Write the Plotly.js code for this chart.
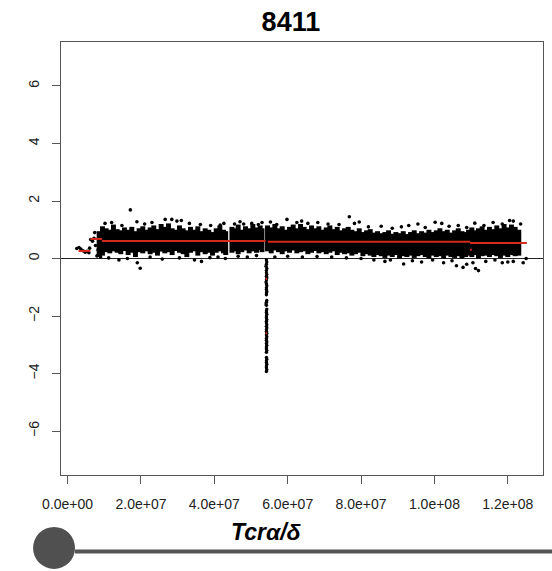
<!DOCTYPE html>
<html>
<head>
<meta charset="utf-8">
<script src="https://cdn.plot.ly/plotly-3.0.1.min.js"></script>
<style>html,body{margin:0;padding:0;background:#fff;}#chart{width:552px;height:571px;}</style>
</head>
<body>
<div id="chart"></div>
<script>
// ---- data (positions in Mb, log-ratio values) ----
var chartTitle = "8411";
var xTitle = "Tcrα/δ";
var tickValsMb = [0, 20, 40, 60, 80, 100, 120];
var tickLabels = ["0.0e+00", "2.0e+07", "4.0e+07", "6.0e+07", "8.0e+07", "1.0e+08", "1.2e+08"];
var yTickVals = [-6, -4, -2, 0, 2, 4, 6];

// dense band of probes: position, upper and lower edge
var bandX = [8.6, 9.5, 10.5, 11.5, 12.5, 13.5, 14.5, 15.5, 16.5, 17.5, 18.5, 19.5, 20.5, 21.5, 22.5, 23.5, 24.5, 25.5, 26.5, 27.5, 28.5, 29.5, 30.5, 31.5, 32.5, 33.5, 34.5, 35.5, 36.5, 37.5, 38.5, 39.5, 40.5, 41.5, 42.5, 43.1,
  44.8, 45.5, 46.5, 47.5, 48.5, 49.5, 50.5, 51.5, 52.5, 53.0,
  54.5, 55.5, 56.5, 57.5, 58.5, 59.5, 60.5, 61.5, 62.5, 63.5, 64.5, 65.5, 66.5, 67.5, 68.5, 69.5, 70.5, 71.5, 72.5, 73.5, 74.5, 75.5, 76.5, 77.5, 78.5, 79.5, 80.5, 81.5, 82.5, 83.5, 84.5, 85.5, 86.5, 87.5, 88.5, 89.5, 90.5, 91.5, 92.5, 93.5, 94.5, 95.5, 96.5, 97.5, 98.5, 99.5, 100.5, 101.5, 102.5, 103.5, 104.5, 105.5, 106.5, 107.5, 108.5, 109.3, 110.2, 111.0, 112.0, 113.0, 114.0, 115.0, 116.0, 117.0, 118.0, 119.0, 120.0, 121.0, 122.0, 123.0, 124.0, 124.9];
var bandTop = [0.95, 1.12, 1.05, 1.0, 1.18, 1.02, 0.98, 1.08, 1.0, 1.1, 0.95, 1.05, 1.12, 1.0, 1.08, 1.15, 1.02, 1.2, 1.1, 1.22, 1.05, 1.0, 1.15, 1.05, 0.98, 1.1, 1.0, 1.12, 0.95, 1.05, 1.0, 0.92, 1.05, 1.15, 1.0, 0.95,
  1.1, 1.05, 1.18, 1.0, 1.12, 1.05, 1.2, 1.08, 1.15, 1.05,
  1.15, 1.08, 1.2, 1.05, 1.12, 1.0, 1.1, 1.18, 1.05, 1.2, 1.1, 1.02, 1.15, 1.05, 1.12, 1.0, 1.08, 1.15, 1.02, 1.1, 0.98, 1.05, 1.1, 1.0, 0.95, 1.05, 0.92, 0.98, 1.02, 0.9, 0.95, 0.88, 0.92, 0.98, 0.86, 0.92, 0.88, 0.95, 0.85, 0.92, 0.98, 0.88, 0.95, 0.9, 1.0, 0.92, 0.98, 1.05, 0.95, 1.0, 0.9, 0.98, 1.05, 0.95, 0.92, 1.0, 1.08, 0.98, 1.05, 1.12, 1.0, 1.1, 1.02, 1.15, 1.05, 1.2, 1.08, 1.18, 1.1, 1.0];
var bandBot = [0.05, 0.1, 0.22, 0.18, 0.25, 0.2, 0.15, 0.26, 0.12, 0.2, 0.05, 0.22, 0.18, 0.25, 0.15, 0.2, 0.1, 0.24, 0.18, 0.22, 0.12, 0.26, 0.2, 0.15, 0.05, 0.2, 0.25, 0.1, 0.22, 0.15, 0.2, 0.1, 0.2, 0.25, 0.18, 0.12,
  0.2, 0.25, 0.15, 0.22, 0.28, 0.18, 0.25, 0.2, 0.3, 0.22,
  0.25, 0.18, 0.28, 0.22, 0.15, 0.25, 0.2, 0.28, 0.18, 0.22, 0.25, 0.15, 0.2, 0.26, 0.18, 0.22, 0.15, 0.2, 0.25, 0.12, 0.2, 0.15, 0.18, 0.1, 0.15, 0.2, 0.08, 0.15, 0.1, 0.05, 0.12, 0.08, 0.02, 0.1, 0.05, 0.12, 0.0, 0.08, 0.05, 0.1, 0.02, 0.08, 0.12, 0.05, 0.0, 0.1, 0.05, 0.08, 0.0, 0.1, 0.05, 0.02, 0.08, 0.0, 0.05, 0.1, 0.05, 0.12, 0.0, 0.08, 0.1, 0.05, 0.12, 0.08, 0.02, 0.1, 0.05, 0.12, 0.08, 0.1];

// scattered probes around the band and at the left end
var dotX = [2.5, 3.1, 3.6, 4.2, 4.8, 5.3, 5.8, 6.0, 6.3, 6.8, 7.2, 7.4, 7.6, 8.0, 8.3,
  10.2, 12.0, 14.8, 17.1, 18.9, 21.0, 23.0, 26.6, 28.4, 29.8, 31.0, 33.2, 36.2, 39.0, 41.6, 42.6, 45.5, 47.0, 48.0, 50.2, 52.0, 53.0, 55.3, 57.0, 59.8, 62.5, 63.8, 65.5, 68.2, 71.0, 74.0, 76.8, 78.2, 79.5, 82.0, 85.5, 88.5, 91.0, 93.0, 95.5, 97.5, 100.2, 102.0, 104.0, 106.5, 108.8, 111.0, 113.5, 116.0, 118.5, 120.5, 121.5, 123.5,
  9.0, 11.2, 14.0, 16.3, 19.0, 19.8, 22.5, 25.8, 30.5, 34.6, 36.5, 38.8, 41.0, 43.0, 46.5, 49.0, 51.5, 56.5, 60.0, 64.0, 68.0, 72.0, 76.0, 80.0, 83.5, 86.5, 88.0, 91.6, 94.0, 96.5, 99.5, 102.5, 104.8, 106.0, 107.8, 108.8, 110.5, 111.2, 112.0, 114.0, 116.5, 118.5, 120.0, 121.5, 124.2, 125.0];
var dotY = [0.35, 0.38, 0.33, 0.27, 0.22, 0.25, 0.2, 0.36, 0.66, 0.6, 0.7, 0.9, 0.45, 0.09, 0.3,
  1.22, 1.25, 1.15, 1.69, 1.28, 1.2, 1.25, 1.36, 1.36, 1.3, 1.32, 1.22, 1.18, 1.15, 1.16, 1.22, 1.2, 1.28, 1.2, 1.22, 1.18, 1.25, 1.27, 1.18, 1.36, 1.25, 1.3, 1.22, 1.25, 1.2, 1.18, 1.45, 1.22, 1.27, 1.1, 1.12, 1.05, 1.1, 1.15, 1.2, 1.08, 1.26, 1.22, 1.12, 1.15, 1.08, 1.23, 1.15, 1.25, 1.2, 1.32, 1.3, 1.2,
  0.05, 0.02, -0.05, 0.0, -0.15, -0.34, 0.05, -0.02, 0.02, -0.05, -0.1, 0.03, 0.05, 0.0, 0.08, 0.05, 0.1, 0.05, 0.08, 0.05, 0.07, 0.05, 0.02, 0.0, -0.05, -0.1, -0.05, -0.19, -0.08, -0.12, -0.05, -0.15, -0.08, -0.25, -0.31, -0.2, -0.15, -0.35, -0.42, -0.1, -0.05, -0.15, -0.12, -0.1, -0.15, 0.0];

// probes in the deep deletion (vertical streak)
var streakX = [54.2, 54.3, 54.2, 54.1, 54.3, 54.2, 54.2, 54.3, 54.2, 54.3, 54.2, 54.1, 54.2, 54.3, 54.2, 54.2, 54.3, 54.2, 54.2, 54.3, 54.2, 54.1, 54.2, 54.3, 54.2, 54.2, 54.3, 54.2, 54.2, 54.3, 54.2, 54.2, 54.3, 54.2, 54.3, 54.2, 54.2, 54.3, 54.2, 54.3, 54.2, 54.2, 54.3, 54.2, 54.3, 54.2, 54.2, 54.3, 54.2, 54.2, 54.3, 54.2, 54.2, 54.3, 54.2, 54.2, 54.3, 54.2];
var streakY = [-0.05, -0.12, -0.2, -0.27, -0.35, -0.42, -0.5, -0.56, -0.62, -0.68, -0.75, -0.82, -0.88, -0.95, -1.02, -1.08, -1.15, -1.2, -1.26, -1.46, -1.52, -1.58, -1.63, -1.76, -1.82, -1.88, -1.94, -2.0, -2.06, -2.12, -2.18, -2.24, -2.3, -2.36, -2.42, -2.48, -2.54, -2.6, -2.66, -2.72, -2.78, -2.84, -2.9, -2.96, -3.02, -3.08, -3.14, -3.2, -3.26, -3.44, -3.5, -3.56, -3.62, -3.68, -3.74, -3.8, -3.87, -3.93];

// segment means (red)
var segStart = [3.0, 6.2, 9.4, 54.0, 54.0, 54.6, 109.7, 109.7];
var segEnd   = [6.2, 9.4, 54.0, 54.4, 54.4, 109.7, 125.2, 110.2];
var segMean  = [0.26, 0.68, 0.61, -0.71, -2.6, 0.58, 0.54, 0.3];

// ---- build traces ----
var MB = 1e6;
var bandTrace = {
  type: 'bar',
  x: bandX.map(function (v) { return v * MB; }),
  y: bandTop.map(function (t, i) { return t - bandBot[i]; }),
  base: bandBot,
  width: 1.35 * MB,
  marker: { color: '#000', line: { width: 0 } },
  hoverinfo: 'skip'
};
var dotTrace = {
  type: 'scatter', mode: 'markers',
  x: dotX.map(function (v) { return v * MB; }),
  y: dotY,
  marker: { color: '#000', size: 3.6 },
  hoverinfo: 'skip'
};
var streakTrace = {
  type: 'scatter', mode: 'markers',
  x: streakX.map(function (v) { return v * MB; }),
  y: streakY,
  marker: { color: '#000', size: 3.4 },
  hoverinfo: 'skip'
};
var sx = [], sy = [];
for (var i = 0; i < segStart.length; i++) {
  sx.push(segStart[i] * MB, segEnd[i] * MB, null);
  sy.push(segMean[i], segMean[i], null);
}
var segTrace = {
  type: 'scatter', mode: 'lines', x: sx, y: sy,
  line: { color: '#d42a1c', width: 2 },
  hoverinfo: 'skip'
};

var layout = {
  width: 552, height: 571,
  margin: { l: 61, r: 9, t: 42, b: 96 },
  paper_bgcolor: '#fff', plot_bgcolor: '#fff',
  showlegend: false,
  barmode: 'overlay',
  font: { family: 'Liberation Sans, Arial, sans-serif', color: '#222' },
  title: {
    text: '<b>' + chartTitle + '</b>',
    font: { size: 27, color: '#000', family: 'Liberation Sans, Arial, sans-serif' },
    xref: 'paper', x: 0.477, xanchor: 'center',
    yref: 'container', y: 0.963, yanchor: 'middle'
  },
  xaxis: {
    range: [-1.8e6, 1.296e8],
    tickvals: tickValsMb.map(function (v) { return v * MB; }),
    ticktext: tickLabels,
    ticks: 'outside', ticklen: 8, tickcolor: '#555', tickwidth: 1,
    showline: true, mirror: true, linecolor: '#555', linewidth: 1,
    showgrid: false, zeroline: false,
    tickfont: { size: 14, color: '#222' },
    ticklabelstandoff: 8
  },
  yaxis: {
    range: [-7.53, 7.53],
    tickvals: yTickVals,
    ticks: 'outside', ticklen: 8, tickcolor: '#555', tickwidth: 1,
    showline: true, mirror: true, linecolor: '#555', linewidth: 1,
    showgrid: false,
    zeroline: true, zerolinecolor: '#222', zerolinewidth: 1,
    tickangle: -90,
    tickfont: { size: 14, color: '#222' },
    ticklabelstandoff: 7
  },
  annotations: [{
    text: '<b><i>' + xTitle + '</i></b>',
    xref: 'paper', yref: 'paper', x: 0.427, y: -0.132,
    xanchor: 'center', yanchor: 'middle', showarrow: false,
    font: { size: 23, color: '#000', family: 'Liberation Sans, Arial, sans-serif' }
  }],
  shapes: [
    { type: 'line', xref: 'paper', yref: 'paper', x0: 0.029, x1: 1.02, y0: -0.1767, y1: -0.1767,
      line: { color: '#555', width: 4 } },
    { type: 'circle', xref: 'paper', yref: 'paper', x0: -0.058, x1: 0.0291, y0: -0.217, y1: -0.120,
      fillcolor: '#505050', line: { color: '#505050', width: 0 } }
  ]
};

Plotly.newPlot('chart', [bandTrace, dotTrace, streakTrace, segTrace], layout, { staticPlot: true, displayModeBar: false });
</script>
</body>
</html>
